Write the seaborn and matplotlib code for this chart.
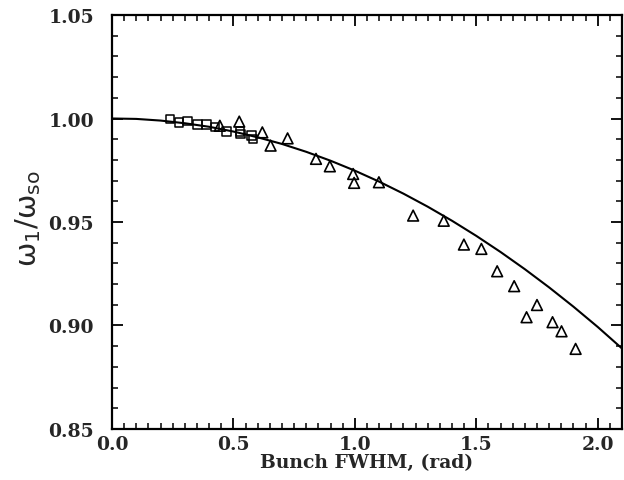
import matplotlib
matplotlib.use("Agg")
import matplotlib.pyplot as plt
from matplotlib.ticker import MultipleLocator, FormatStrFormatter
import seaborn as sns
import numpy as np

# Open squares (measurement set 1)
sq_x = [0.239, 0.276, 0.310, 0.351, 0.390, 0.424, 0.472, 0.527, 0.530, 0.575, 0.581]
sq_y = [0.9998, 0.9982, 0.9987, 0.9970, 0.9970, 0.9958, 0.9938, 0.9938, 0.9925, 0.9917, 0.9901]

# Open triangles (measurement set 2)
tri_x = [0.444, 0.524, 0.619, 0.653, 0.723, 0.840, 0.897, 0.993, 0.997, 1.099,
         1.240, 1.366, 1.449, 1.521, 1.586, 1.656, 1.707, 1.750, 1.814, 1.851, 1.909]
tri_y = [0.9965, 0.9985, 0.9933, 0.9869, 0.9904, 0.9805, 0.9769, 0.9732, 0.9689, 0.9692,
         0.9531, 0.9506, 0.9391, 0.9370, 0.9262, 0.9190, 0.9040, 0.9099, 0.9016, 0.8972, 0.8887]

# Theory curve
curve_x = [0.0, 0.1, 0.2, 0.3, 0.4, 0.5, 0.6, 0.7, 0.8, 0.9, 1.0,
           1.1, 1.2, 1.3, 1.4, 1.5, 1.6, 1.7, 1.8, 1.9, 2.0, 2.1]
curve_y = [1.0000, 0.9998, 0.9990, 0.9977, 0.9960, 0.9937, 0.9909, 0.9877, 0.9839, 0.9796, 0.9748,
           0.9695, 0.9637, 0.9574, 0.9506, 0.9433, 0.9355, 0.9272, 0.9184, 0.9091, 0.8993, 0.8889]

sns.set_theme(style="ticks")
plt.rcParams['font.family'] = ['DejaVu Serif', 'DejaVu Sans']
plt.rcParams['mathtext.fontset'] = 'dejavusans'

fig = plt.figure(figsize=(6.24, 4.81), dpi=100)
ax = fig.add_axes([112/624, 1-430/481, (622-112)/624, (430-16)/481])

sns.lineplot(x=curve_x, y=curve_y, ax=ax, color='black', linewidth=1.5, sort=True)
sns.scatterplot(x=sq_x, y=sq_y, ax=ax, marker='s', s=38, facecolor='none',
                edgecolor='black', linewidth=1.1, zorder=3)
sns.scatterplot(x=tri_x, y=tri_y, ax=ax, marker='^', s=60, facecolor='none',
                edgecolor='black', linewidth=1.2, zorder=3)

ax.set_xlim(0, 2.1)
ax.set_ylim(0.85, 1.05)
ax.xaxis.set_major_locator(MultipleLocator(0.5))
ax.xaxis.set_minor_locator(MultipleLocator(0.05))
ax.yaxis.set_major_locator(MultipleLocator(0.05))
ax.yaxis.set_minor_locator(MultipleLocator(0.01))
ax.xaxis.set_major_formatter(FormatStrFormatter('%.1f'))
ax.yaxis.set_major_formatter(FormatStrFormatter('%.2f'))

ax.tick_params(which='both', direction='in', top=True, right=True, color='black')
ax.tick_params(which='major', length=8, width=1.3, labelsize=13.5)
ax.tick_params(axis='y', which='major', pad=13)
ax.tick_params(axis='x', which='major', pad=4)
ax.tick_params(which='minor', length=4, width=1.1)
for lab in ax.get_xticklabels() + ax.get_yticklabels():
    lab.set_fontweight('bold')
for sp in ax.spines.values():
    sp.set_linewidth(1.6)
    sp.set_color('black')

ax.set_xlabel('Bunch FWHM, (rad)', fontsize=13.5, fontweight='bold', labelpad=0)
ax.set_ylabel(r'$\mathrm{\omega}_1/\mathrm{\omega}_{\rm so}$', fontsize=21)
ax.yaxis.set_label_coords(-0.135, 0.51)

fig.savefig('out.png', dpi=100)
